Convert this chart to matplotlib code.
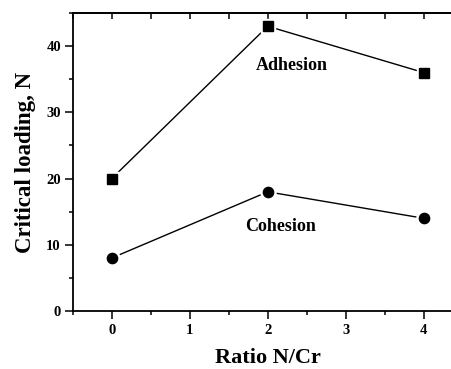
import matplotlib
matplotlib.use("Agg")
import matplotlib.pyplot as plt
from matplotlib.ticker import MultipleLocator

ratio = [0, 2, 4]
adhesion = [20, 43, 36]
cohesion = [8, 18, 14]
x_ticks = [0, 1, 2, 3, 4]
y_ticks = [0, 10, 20, 30, 40]

plt.rcParams['font.family'] = ['Liberation Serif', 'DejaVu Serif']
plt.rcParams['font.weight'] = 'bold'

fig = plt.figure(figsize=(4.52, 3.69), dpi=100)
W, H = 452, 369
left, right, top, bottom = 72.7, 462.8, 13, 311
ax = fig.add_axes([left / W, 1 - bottom / H, (right - left) / W, (bottom - top) / H])

for ys, mk, ms in [(adhesion, 's', 6.6), (cohesion, 'o', 7.4)]:
    ax.plot(ratio, ys, color='black', lw=1.0, zorder=2)
    ax.plot(ratio, ys, ls='none', marker=mk, ms=ms + 3.5, mfc='white', mec='white', zorder=3)
    ax.plot(ratio, ys, ls='none', marker=mk, ms=ms, mfc='black', mec='black', zorder=4)

ax.text(2.31, 37.1, 'Adhesion', ha='center', va='center', fontsize=13, fontweight='bold')
ax.text(2.17, 12.7, 'Cohesion', ha='center', va='center', fontsize=13, fontweight='bold')

ax.set_xlim(-0.5, 4.5)
ax.set_ylim(0, 45)
ax.set_xticks(x_ticks)
ax.set_yticks(y_ticks)
ax.xaxis.set_minor_locator(MultipleLocator(0.5))
ax.yaxis.set_minor_locator(MultipleLocator(5))

ax.spines['right'].set_visible(False)
for s in ['left', 'bottom', 'top']:
    ax.spines[s].set_linewidth(1.3)

ax.tick_params(axis='both', which='major', direction='out', length=5.5, width=1.1,
               labelsize=10.5)
ax.tick_params(axis='both', which='minor', direction='out', length=3, width=1.1)
ax.tick_params(axis='x', which='major', pad=3.5)
ax.tick_params(axis='y', which='major', pad=3)
ax.tick_params(axis='x', which='both', top=False)

for lab in ax.get_xticklabels() + ax.get_yticklabels():
    lab.set_fontweight('bold')

ax.set_xlabel('Ratio N/Cr', fontsize=16, fontweight='bold')
ax.set_ylabel('Critical loading, N', fontsize=16.5, fontweight='bold')
ax.xaxis.set_label_coords((268 - left) / (right - left), (bottom - 363) / (bottom - top))
ax.xaxis.label.set_va('baseline')
ax.yaxis.set_label_coords((26 - left) / (right - left), 0.5)
ax.yaxis.label.set_va('center')

# top ticks drawn inward
ax2 = ax.secondary_xaxis('top')
ax2.set_xticks(x_ticks)
ax2.xaxis.set_minor_locator(MultipleLocator(0.5))
ax2.tick_params(axis='x', which='both', direction='in', length=4.5, width=1.1, labeltop=False)
ax2.spines['top'].set_linewidth(1.3)

fig.savefig('out.png', dpi=100)
